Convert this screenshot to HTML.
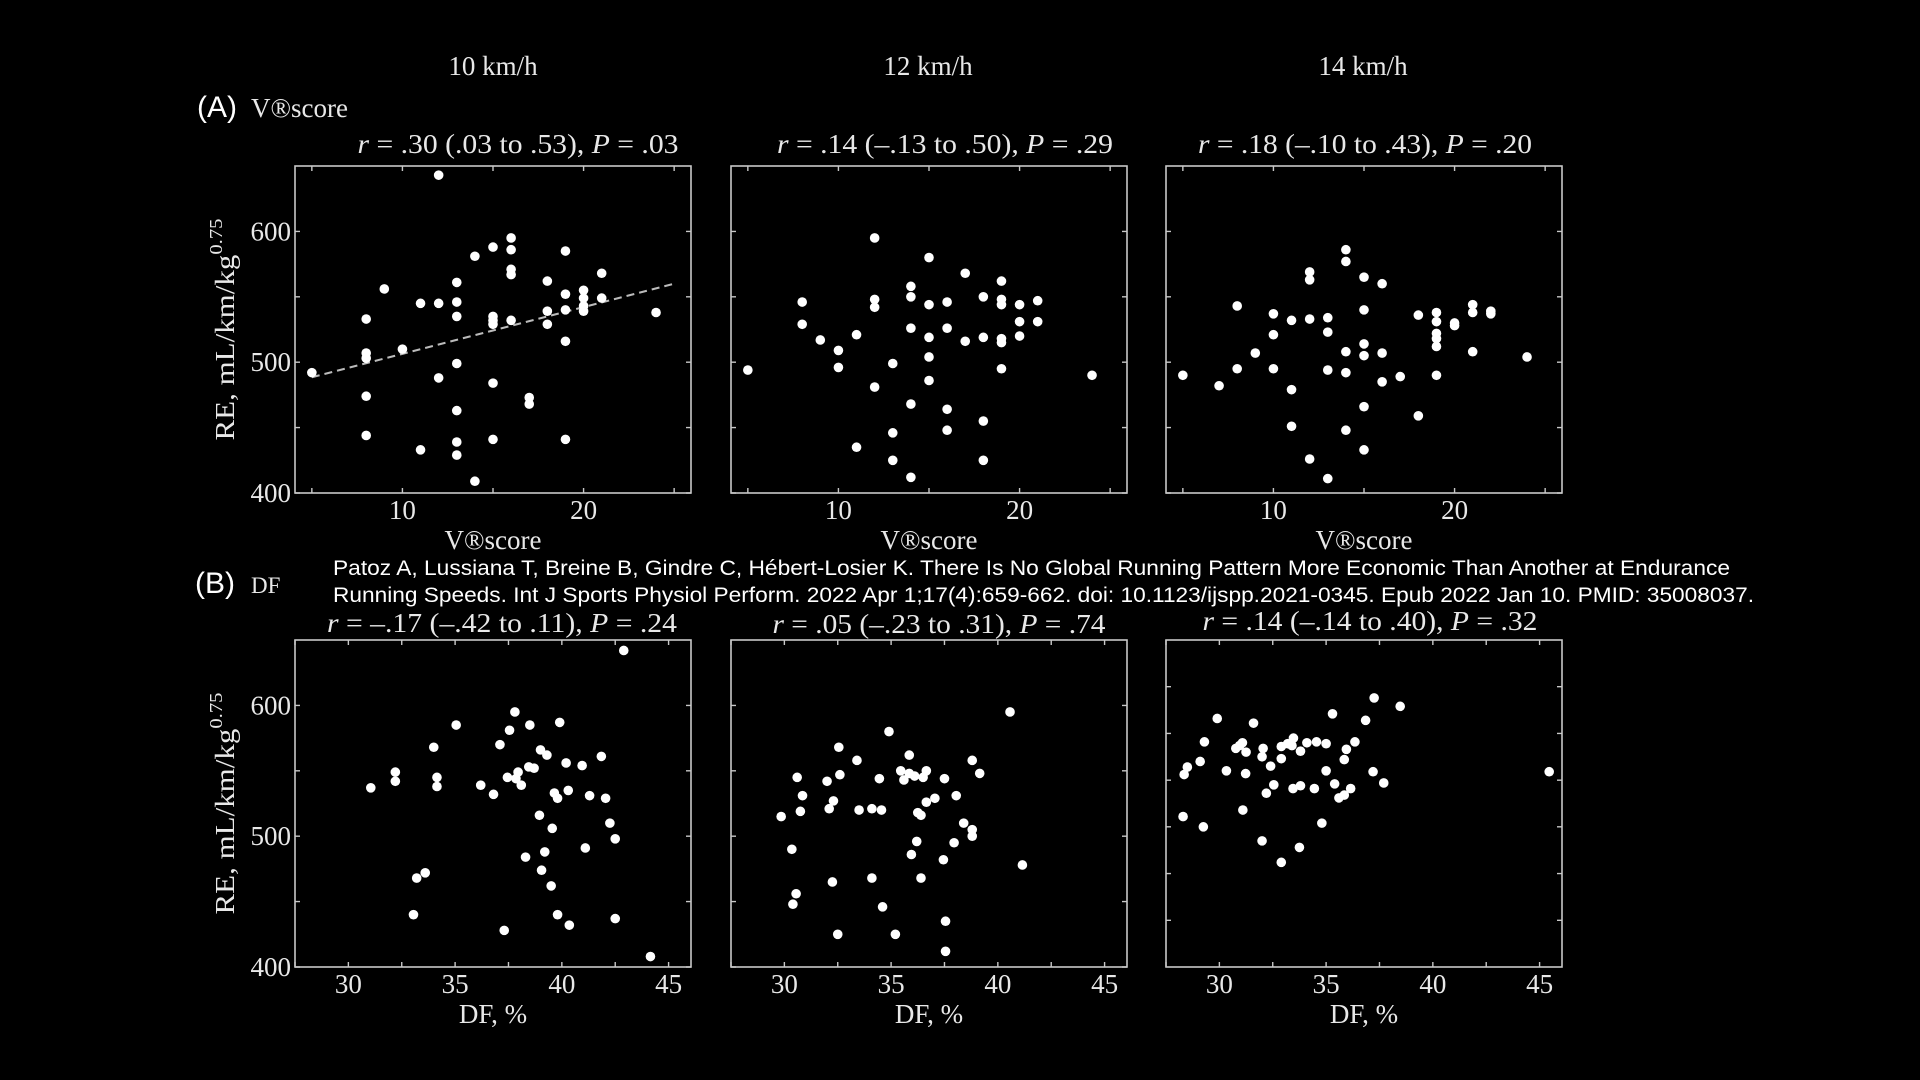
<!DOCTYPE html>
<html><head><meta charset="utf-8">
<style>
html,body{margin:0;padding:0;background:#000;}
svg{display:block;}
.serif{font-family:"Liberation Serif","DejaVu Serif",serif;fill:#e8e8e8;}
.sans{font-family:"Liberation Sans","DejaVu Sans",sans-serif;fill:#fff;}
</style></head>
<body>
<svg id="fig" width="1920" height="1080" viewBox="0 0 1920 1080" xmlns="http://www.w3.org/2000/svg">
<rect width="1920" height="1080" fill="#000"/>
<text class="serif" x="493" y="75" font-size="27" text-anchor="middle">10 km/h</text>
<text class="serif" x="928" y="75" font-size="27" text-anchor="middle">12 km/h</text>
<text class="serif" x="1363" y="75" font-size="27" text-anchor="middle">14 km/h</text>
<text class="sans" x="197" y="117" font-size="30">(A)</text>
<text class="serif" x="251" y="117" font-size="27">V®score</text>
<text class="sans" x="195" y="593" font-size="30">(B)</text>
<text class="serif" x="251" y="593" font-size="23">DF</text>
<text class="sans" x="333" y="575" font-size="21" textLength="1397" lengthAdjust="spacingAndGlyphs">Patoz A, Lussiana T, Breine B, Gindre C, Hébert-Losier K. There Is No Global Running Pattern More Economic Than Another at Endurance</text>
<text class="sans" x="333" y="602" font-size="21" textLength="1421" lengthAdjust="spacingAndGlyphs">Running Speeds. Int J Sports Physiol Perform. 2022 Apr 1;17(4):659-662. doi: 10.1123/ijspp.2021-0345. Epub 2022 Jan 10. PMID: 35008037.</text>
<g id="panels"></g>
</svg>
<script>
// ---- data ----
const a1X=[5,12,9,8,8,8,8,8,10,11,11,12,12,13,13,13,13,13,13,13,14,14,15,15,15,15,15,15,16,16,16,16,16,17,17,18,18,18,19,19,19,19,19,20,20,20,20,21,21,24];
const a1Y=[492,643,556,533,507,503,474,444,510,545,433,545,488,561,546,535,499,463,439,429,581,409,588,535,532,529,484,441,595,586,571,567,532,473,468,562,539,529,585,552,540,516,441,555,549,543,539,568,549,538];
const a1RegX=[5,25];
const a1RegY=[488.5,560];
const a2X=[5,12,15,17,19,8,8,9,10,10,11,11,12,12,12,13,13,13,14,14,14,14,14,15,15,15,15,16,16,16,16,17,18,18,18,18,19,19,19,19,19,20,20,20,21,21,24];
const a2Y=[494,595,580,568,562,546,529,517,509,496,521,435,548,542,481,499,446,425,558,550,526,468,412,544,519,504,486,546,526,464,448,516,550,519,455,425,548,544,518,515,495,544,531,520,547,531,490];
const a3X=[5,7,8,8,9,10,10,10,11,11,11,12,12,12,12,13,13,13,13,14,14,14,14,14,15,15,15,15,15,15,16,16,16,17,18,18,19,19,19,19,19,19,20,20,21,21,21,22,22,24];
const a3Y=[490,482,543,495,507,537,521,495,532,479,451,569,563,533,426,534,523,494,411,586,577,508,492,448,565,540,514,505,466,433,560,507,485,489,536,459,538,531,522,518,512,490,530,528,544,538,508,539,537,504];
const b1X=[42.9,37.8,35.05,38.5,39.9,37.55,34.0,37.1,39.0,39.3,41.85,40.2,40.95,38.45,38.7,32.2,32.2,34.15,34.15,37.45,37.95,37.85,31.05,36.2,38.1,36.8,39.65,39.8,40.3,41.3,42.05,38.95,39.55,42.25,42.5,41.1,39.2,38.3,39.05,33.6,33.2,39.5,33.05,39.8,42.5,40.35,37.3,44.15];
const b1Y=[642,595,585,585,587,581,568,570,566,562,561,556,554,553,552,549,542,545,538,545,549,544,537,539,539,532,533,529,535,531,529,516,506,510,498,491,488,484,474,472,468,462,440,440,437,432,428,408];
const b2X=[40.57,34.9,32.55,35.85,33.4,38.8,35.45,36.65,35.85,36.1,35.6,36.5,37.5,34.45,39.15,30.6,32.6,32.0,30.85,38.05,37.05,32.3,36.65,32.1,30.75,33.5,34.1,34.55,36.25,36.4,29.85,38.4,38.8,38.8,36.2,37.95,30.35,35.95,37.45,41.15,34.1,36.4,32.25,30.55,30.4,34.6,37.55,32.5,35.2,37.55];
const b2Y=[595,580,568,562,558,558,550,550,548,546,543,545,544,544,548,545,547,542,531,531,529,527,526,521,519,520,521,520,518,516,515,510,505,500,496,495,490,486,482,478,468,468,465,456,448,446,435,425,425,412];
const b3X=[37.25,38.47,29.9,35.3,31.6,36.85,29.3,31.08,30.95,30.77,31.25,32.05,32.0,32.9,33.2,33.47,33.4,33.8,34.1,34.55,35.0,36.35,35.95,35.85,32.9,29.1,28.5,28.35,32.4,30.33,31.23,35.0,37.2,45.45,32.55,35.4,37.7,33.45,33.8,34.45,32.2,35.6,35.85,36.15,31.1,28.3,29.25,34.8,32.0,33.75,32.9];
const b3Y=[588,579,566,571,561,564,541,540,537,534,530,534,525,536,539,545,537,531,540,541,539,541,533,522,523,520,514,506,515,510,507,510,509,509,495,496,497,491,494,491,486,481,484,491,468,461,450,454,435,428,412];
const vTicks=[5,10,15,20,25];
const vTickLabels=['','10','','20',''];
const dfTicks=[27.5,30,32.5,35,37.5,40,42.5,45];
const dfTickLabels=['','30','','35','','40','','45'];
const reTicks=[400,450,500,550,600];
const reTickLabels=['400','','500','','600'];
const reTicksB3=[350,400,450,500,550,600];
const titles=['r = .30 (.03 to .53), P = .03','r = .14 (–.13 to .50), P = .29','r = .18 (–.10 to .43), P = .20','r = –.17 (–.42 to .11), P = .24','r = .05 (–.23 to .31), P = .74','r = .14 (–.14 to .40), P = .32'];

const NS='http://www.w3.org/2000/svg';
const root=document.getElementById('panels');
function mk(tag,attrs,parent){const e=document.createElementNS(NS,tag);for(const k in attrs)e.setAttribute(k,attrs[k]);(parent||root).appendChild(e);return e;}

function titleText(g,str,cx,y,w,name){
  const t=mk('text',{x:cx,y:y,'text-anchor':'middle','font-size':27,class:'serif',textLength:w,lengthAdjust:'spacingAndGlyphs'},g);
  
  
  const parts=str.split(/(r|P)(?= =)/);
  parts.forEach(p=>{if(!p)return;const s=mk('tspan',{},t);if(p==='r'||p==='P')s.setAttribute('font-style','italic');s.textContent=p;});
}

function panel(o){
  const g=mk('g',{});
  
  
  const L=o.left,R=o.left+396,T=o.top,B=o.top+327;
  const sx=v=>L+(v-o.xd[0])/(o.xd[1]-o.xd[0])*(R-L);
  const sy=v=>B-(v-o.yd[0])/(o.yd[1]-o.yd[0])*(B-T);
  const frame=mk('rect',{x:L,y:T,width:R-L,height:B-T,fill:'none',stroke:'#c8c8c8','stroke-width':1.6},g);
  
  
  o.xt.forEach((v,i)=>{
    const x=sx(v);
    const tk=mk('path',{d:`M${x},${B}V${B-5}M${x},${T}V${T+5}`,stroke:'#c8c8c8','stroke-width':1.4},g);
    
    
    if(o.xl[i]){const t=mk('text',{x:x,y:B+26,'text-anchor':'middle','font-size':27,class:'serif'},g);t.textContent=o.xl[i];
      
      }
  });
  o.yt.forEach((v,i)=>{
    const y=sy(v);
    const tk=mk('path',{d:`M${L},${y}H${L+5}M${R},${y}H${R-5}`,stroke:'#c8c8c8','stroke-width':1.4},g);
    
    
    if(o.yl&&o.yl[i]){const t=mk('text',{x:L-4,y:y+9,'text-anchor':'end','font-size':27,class:'serif'},g);t.textContent=o.yl[i];
      
      }
  });
  if(o.reg){const ln=mk('line',{x1:sx(o.reg[0][0]),y1:sy(o.reg[1][0]),x2:sx(o.reg[0][1]),y2:sy(o.reg[1][1]),stroke:'#bbb','stroke-width':2,'stroke-dasharray':'8,5'},g);
    
    }
  o.X.forEach((v,i)=>{
    const c=mk('circle',{cx:sx(v),cy:sy(o.Y[i]),r:4.8,fill:'#fff'},g);
    
    
  });
  const xl=mk('text',{x:(L+R)/2,y:B+56,'text-anchor':'middle','font-size':27,class:'serif'},g);
  xl.textContent=o.xlabel;
  
  
  if(o.ylabel){
    const cy=(T+B)/2;
    const yl=mk('text',{x:0,y:0,'text-anchor':'middle','font-size':27,class:'serif',transform:`translate(234,${cy}) rotate(-90)`,textLength:222,lengthAdjust:'spacingAndGlyphs'},g);
    
    
    yl.appendChild(document.createTextNode('RE, mL/km/kg'));
    const sup=mk('tspan',{'font-size':18,dy:-12},yl);sup.textContent='0.75';
  }
  titleText(g,o.title,o.tc,o.ty,o.tw,o.name+'-title');
}
const xdV=[4.07,25.93], xdD=[27.5,46.05];
panel({name:'panel-a1',left:295,top:166,xd:xdV,yd:[400,650],X:a1X,Y:a1Y,xt:vTicks,xl:vTickLabels,yt:reTicks,yl:reTickLabels,reg:[a1RegX,a1RegY],xlabel:'V®score',ylabel:true,title:titles[0],tc:518,ty:153,tw:321});
panel({name:'panel-a2',left:731,top:166,xd:xdV,yd:[400,650],X:a2X,Y:a2Y,xt:vTicks,xl:vTickLabels,yt:reTicks,xlabel:'V®score',title:titles[1],tc:945,ty:153,tw:336});
panel({name:'panel-a3',left:1166,top:166,xd:xdV,yd:[400,650],X:a3X,Y:a3Y,xt:vTicks,xl:vTickLabels,yt:reTicks,xlabel:'V®score',title:titles[2],tc:1365,ty:153,tw:334});
panel({name:'panel-b1',left:295,top:640,xd:xdD,yd:[400,650],X:b1X,Y:b1Y,xt:dfTicks,xl:dfTickLabels,yt:reTicks,yl:reTickLabels,xlabel:'DF, %',ylabel:true,title:titles[3],tc:502,ty:632,tw:350});
panel({name:'panel-b2',left:731,top:640,xd:xdD,yd:[400,650],X:b2X,Y:b2Y,xt:dfTicks,xl:dfTickLabels,yt:reTicks,xlabel:'DF, %',title:titles[4],tc:939,ty:633,tw:333});
panel({name:'panel-b3',left:1166,top:640,xd:xdD,yd:[300,650],X:b3X,Y:b3Y,xt:dfTicks,xl:dfTickLabels,yt:reTicksB3,xlabel:'DF, %',title:titles[5],tc:1370,ty:630,tw:335});
</script>
</body></html>
